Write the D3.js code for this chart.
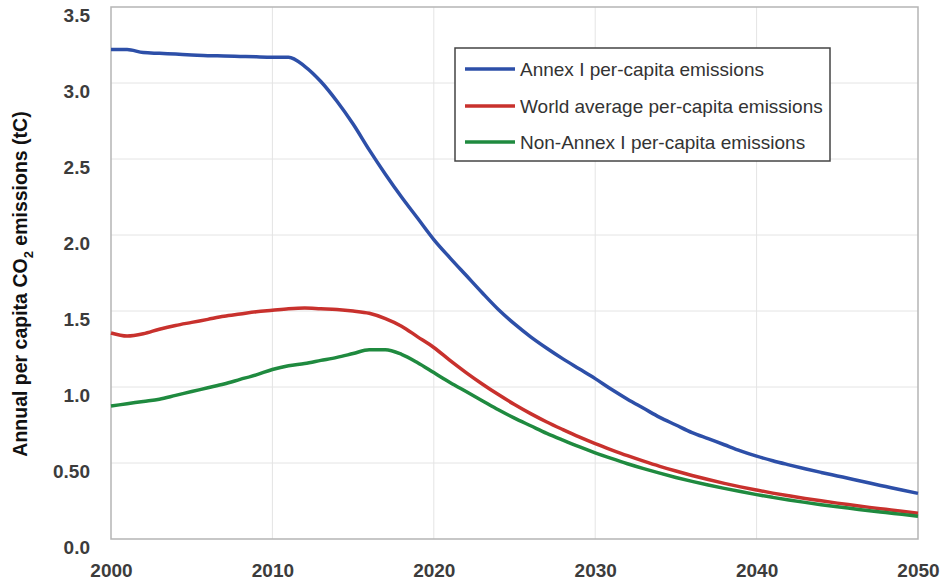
<!DOCTYPE html>
<html><head><meta charset="utf-8">
<script src="https://cdn.jsdelivr.net/npm/d3@7"></script>
<style>body{margin:0;background:#fff}svg{display:block;font-family:Arial,"Liberation Sans",sans-serif}</style>
</head><body><svg id="c" width="942" height="586"></svg>
<script>
const years = d3.range(2000, 2051);
const annexI = [3.22,3.22,3.20,3.195,3.19,3.185,3.18,3.178,3.175,3.172,3.17,3.17,3.11,3.01,2.88,2.73,2.56,2.40,2.25,2.11,1.97,1.85,1.735,1.62,1.51,1.415,1.33,1.255,1.185,1.12,1.055,0.985,0.92,0.86,0.80,0.75,0.70,0.66,0.62,0.58,0.545,0.515,0.488,0.462,0.438,0.415,0.392,0.368,0.345,0.322,0.30];
const world = [1.355,1.335,1.35,1.38,1.405,1.425,1.445,1.465,1.48,1.495,1.505,1.515,1.52,1.515,1.51,1.50,1.485,1.45,1.40,1.33,1.26,1.175,1.095,1.02,0.95,0.885,0.825,0.77,0.72,0.672,0.628,0.587,0.548,0.512,0.478,0.447,0.418,0.391,0.366,0.343,0.322,0.302,0.284,0.267,0.251,0.236,0.222,0.208,0.195,0.182,0.17];
const nonAnnexI = [0.875,0.89,0.905,0.92,0.945,0.97,0.995,1.02,1.05,1.08,1.115,1.14,1.155,1.175,1.195,1.22,1.245,1.245,1.215,1.16,1.095,1.03,0.97,0.91,0.85,0.795,0.745,0.695,0.65,0.607,0.567,0.53,0.495,0.463,0.433,0.405,0.379,0.355,0.333,0.312,0.292,0.274,0.257,0.241,0.226,0.212,0.199,0.186,0.174,0.162,0.15];
const seriesNames = ["Annex I per-capita emissions","World average per-capita emissions","Non-Annex I per-capita emissions"];
const seriesColors = ["#2d4fa8","#c8312d","#1f8a3f"];
const yTicks = [0,0.5,1.0,1.5,2.0,2.5,3.0,3.5];
const yTickLabels = ["0.0","0.50","1.0","1.5","2.0","2.5","3.0","3.5"];
const xTicks = [2000,2010,2020,2030,2040,2050];

const svg = d3.select("#c");
const L=111,R=918,T=7,B=539;
const x = d3.scaleLinear().domain([2000,2050]).range([L,R]);
const y = d3.scaleLinear().domain([0,3.5]).range([B,T]);

// grid
svg.append("g").selectAll("line").data(yTicks.slice(1,-1)).join("line")
  .attr("x1",L).attr("x2",R).attr("y1",d=>y(d)).attr("y2",d=>y(d))
  .attr("stroke","#e4e4e4").attr("stroke-width",1);
svg.append("g").selectAll("line").data(xTicks.slice(1,-1)).join("line")
  .attr("y1",T).attr("y2",B).attr("x1",d=>x(d)).attr("x2",d=>x(d))
  .attr("stroke","#e4e4e4").attr("stroke-width",1);
// frame
svg.append("rect").attr("x",L).attr("y",T).attr("width",R-L).attr("height",B-T)
  .attr("fill","none").attr("stroke","#b5b5b5").attr("stroke-width",1.5);

// y axis labels
const yAxis = d3.axisLeft(y).tickValues(yTicks).tickSize(0).tickPadding(21)
  .tickFormat((d,i)=>yTickLabels[i]);
const gy = svg.append("g").attr("transform",`translate(${L},0)`).call(yAxis);
gy.select(".domain").remove();
gy.selectAll("text").attr("font-size",19).attr("font-weight","bold").attr("fill","#3c3c3c")
  .attr("font-family","Arial, 'Liberation Sans', sans-serif").attr("dy","0.35em").attr("transform","translate(0,8)");

const xAxis = d3.axisBottom(x).tickValues(xTicks).tickSize(0).tickPadding(25).tickFormat(d3.format("d"));
const gx = svg.append("g").attr("transform",`translate(0,${B})`).call(xAxis);
gx.select(".domain").remove();
gx.selectAll("text").attr("font-size",19).attr("font-weight","bold").attr("fill","#3c3c3c")
  .attr("font-family","Arial, 'Liberation Sans', sans-serif");

// lines
const line = d3.line().x((d,i)=>x(years[i])).y(d=>y(d)).curve(d3.curveMonotoneX);
[annexI, world, nonAnnexI].forEach((s,k)=>{
  svg.append("path").datum(s).attr("d",line).attr("fill","none")
    .attr("stroke",seriesColors[k]).attr("stroke-width",3.5).attr("stroke-linejoin","round");
});

// legend
const lg = svg.append("g");
lg.append("rect").attr("x",455).attr("y",48).attr("width",375).attr("height",113)
  .attr("fill","#fff").attr("stroke","#444").attr("stroke-width",1.5);
const rowsY=[69,106,142];
seriesNames.forEach((n,k)=>{
  lg.append("line").attr("x1",465).attr("x2",515).attr("y1",rowsY[k]).attr("y2",rowsY[k])
    .attr("stroke",seriesColors[k]).attr("stroke-width",3.5);
  lg.append("text").attr("x",520).attr("y",rowsY[k]).attr("dy","0.35em")
    .attr("font-size",19).attr("fill","#333").text(n);
});

// y title
const t = svg.append("text").attr("transform","translate(27,284) rotate(-90)")
  .attr("text-anchor","middle").attr("font-size",19.5).attr("font-weight","bold").attr("fill","#111");
t.append("tspan").text("Annual per capita CO");
t.append("tspan").attr("dy",6).attr("font-size",13).text("2");
t.append("tspan").attr("dy",-6).text(" emissions (tC)");
</script></body></html>
